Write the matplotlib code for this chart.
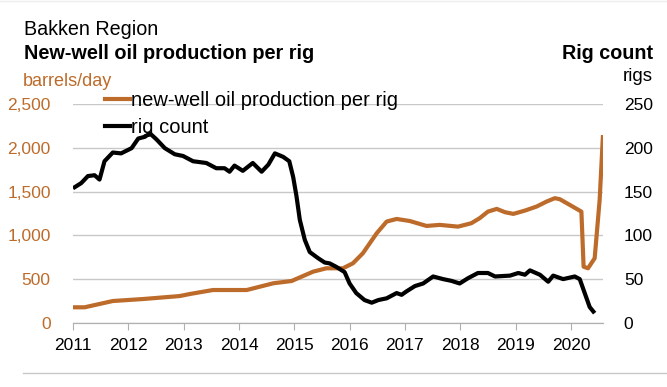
import matplotlib.pyplot as plt
from matplotlib.lines import Line2D

plt.rcParams['font.family'] = ['Liberation Sans', 'DejaVu Sans']

ORANGE = '#bd6b2a'

# new-well oil production per rig (barrels/day), decimal years
prod_t = [2011.0, 2011.21, 2011.72, 2012.27, 2012.93, 2013.11, 2013.53, 2014.01,
          2014.14, 2014.62, 2014.95, 2015.34, 2015.58, 2015.88, 2016.06, 2016.24,
          2016.49, 2016.67, 2016.85, 2017.09, 2017.39, 2017.63, 2017.96, 2018.2,
          2018.35, 2018.5, 2018.66, 2018.81, 2018.96, 2019.17, 2019.38, 2019.56,
          2019.71, 2019.8, 2019.98, 2020.19, 2020.23, 2020.31, 2020.43, 2020.52,
          2020.58]
prod_v = [177, 177, 249, 272, 306, 329, 375, 375,
          375, 452, 478, 585, 624, 624, 681, 796,
          1025, 1159, 1189, 1165, 1109, 1121, 1101, 1140,
          1197, 1273, 1304, 1266, 1247, 1285, 1331, 1388,
          1427, 1415, 1350, 1273, 642, 624, 739, 1407,
          2150]

# rig count
rig_t = [2011.0, 2011.15, 2011.27, 2011.39, 2011.48, 2011.57, 2011.72, 2011.87,
         2012.06, 2012.18, 2012.3, 2012.39, 2012.51, 2012.66, 2012.84, 2012.99,
         2013.17, 2013.41, 2013.59, 2013.74, 2013.83, 2013.92, 2014.07, 2014.25,
         2014.41, 2014.53, 2014.65, 2014.8, 2014.91, 2014.98, 2015.04, 2015.1,
         2015.19, 2015.28, 2015.43, 2015.55, 2015.64, 2015.76, 2015.91, 2016.0,
         2016.12, 2016.27, 2016.4, 2016.52, 2016.67, 2016.85, 2016.94, 2017.03,
         2017.18, 2017.33, 2017.51, 2017.69, 2017.84, 2017.99, 2018.14, 2018.32,
         2018.5, 2018.63, 2018.9, 2019.05, 2019.17, 2019.26, 2019.44, 2019.59,
         2019.68, 2019.86, 2020.07, 2020.16, 2020.25, 2020.34, 2020.43]
rig_v = [154, 160, 168, 169, 164, 185, 195, 194,
         200, 211, 213, 217, 210, 200, 193, 191,
         185, 183, 177, 177, 173, 180, 174, 183,
         173, 181, 194, 190, 185, 167, 145, 118,
         95, 81, 74, 69, 68, 64, 58, 45,
         34, 26, 23, 26, 28, 34, 32, 36,
         42, 45, 53, 50, 48, 45, 51, 57,
         57, 53, 54, 57, 55, 60, 55, 47,
         54, 50, 53, 50, 34, 18, 11]

years = list(range(2011, 2021))
left_ticks = [0, 500, 1000, 1500, 2000, 2500]
right_ticks = [0, 50, 100, 150, 200, 250]

fig = plt.figure(figsize=(6.67, 3.87), dpi=100)
ax = fig.add_axes([0.1094, 0.166, 0.7946, 0.564])
ax2 = ax.twinx()

ax.plot(prod_t, prod_v, color=ORANGE, lw=3, solid_capstyle='butt')
ax2.plot(rig_t, rig_v, color='black', lw=3, solid_capstyle='butt')

ax.set_xlim(2011, 2020.58)
ax.set_ylim(0, 2500)
ax2.set_ylim(0, 250)

ax.set_yticks(left_ticks)
ax.set_yticklabels([f'{v:,}' for v in left_ticks])
ax2.set_yticks(right_ticks)
ax.set_xticks(years)
ax.set_xticklabels([str(y) for y in years])

ax.grid(axis='y', color='#c8c8c8', lw=1)
ax.set_axisbelow(True)
for a in (ax, ax2):
    for s in ['top', 'left', 'right']:
        a.spines[s].set_visible(False)
    a.spines['bottom'].set_color('#b0b0b0')

ax.tick_params(axis='y', length=0, pad=16, labelsize=12.5, labelcolor=ORANGE)
ax2.tick_params(axis='y', length=0, pad=15, labelsize=12.5, labelcolor='black')
ax.tick_params(axis='x', length=5, color='#b0b0b0', labelsize=12.5, pad=6)

handles = [Line2D([], [], color=ORANGE, lw=3),
           Line2D([], [], color='black', lw=3)]
ax.legend(handles, ['new-well oil production per rig', 'rig count'],
          loc='upper left', bbox_to_anchor=(0.045, 1.1), frameon=False,
          fontsize=14.5, handlelength=1.25, handletextpad=0.05, labelspacing=0.4,
          borderaxespad=0)

fig.text(0.036, 0.925, 'Bakken Region', fontsize=14.2, va='center')
fig.text(0.036, 0.862, 'New-well oil production per rig', fontsize=14.3,
         fontweight='bold', va='center')
fig.text(0.034, 0.79, 'barrels/day', fontsize=13, color=ORANGE, va='center')
fig.text(0.979, 0.862, 'Rig count', fontsize=14.2, fontweight='bold',
         ha='right', va='center')
fig.text(0.979, 0.803, 'rigs', fontsize=13.5, ha='right', va='center')

fig.add_artist(Line2D([0.034, 1.0], [0.036, 0.036], color='#c8c8c8', lw=1))
fig.add_artist(Line2D([0.0, 1.0], [0.997, 0.997], color='#eeeeee', lw=1))

fig.savefig('out.png', dpi=100)
